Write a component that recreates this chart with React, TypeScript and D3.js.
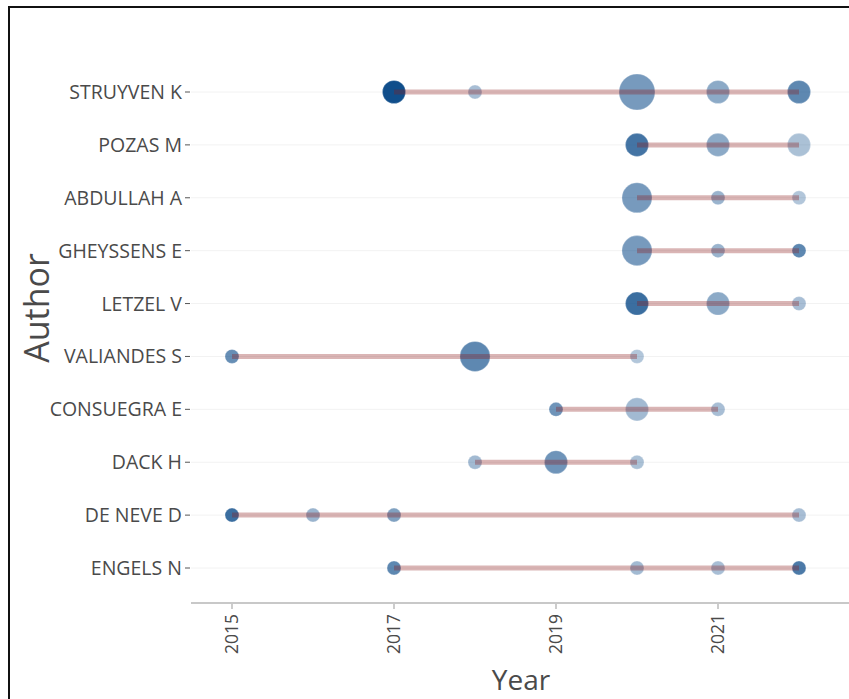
import React from "react";
import * as d3 from "d3";

const authors = [
  "STRUYVEN K",
  "POZAS M",
  "ABDULLAH A",
  "GHEYSSENS E",
  "LETZEL V",
  "VALIANDES S",
  "CONSUEGRA E",
  "DACK H",
  "DE NEVE D",
  "ENGELS N",
];

// one entry per author: years with publications
const years: number[][] = [
  [2017, 2018, 2020, 2021, 2022],
  [2020, 2021, 2022],
  [2020, 2021, 2022],
  [2020, 2021, 2022],
  [2020, 2021, 2022],
  [2015, 2018, 2020],
  [2019, 2020, 2021],
  [2018, 2019, 2020],
  [2015, 2016, 2017, 2022],
  [2017, 2020, 2021, 2022],
];

// number of articles per author-year
const freq: number[][] = [
  [2, 1, 4, 2, 2],
  [2, 2, 2],
  [3, 1, 1],
  [3, 1, 1],
  [2, 2, 1],
  [1, 3, 1],
  [1, 2, 1],
  [1, 2, 1],
  [1, 1, 1, 1],
  [1, 1, 1, 1],
];

// total citations per year (drives opacity)
const tcPerYear: number[][] = [
  [10, 1.2, 4, 2.8, 5.5],
  [7, 2.8, 1],
  [4, 2, 0.6],
  [4, 2, 5.5],
  [7.5, 2.8, 1.2],
  [5, 5.5, 0.6],
  [4.5, 1.5, 1.2],
  [1.5, 4.5, 1],
  [7.5, 2, 3.5, 1.2],
  [5.5, 1.5, 1.2, 6.5],
];

const xTicks = [2015, 2017, 2019, 2021];

const W = 849;
const H = 699;
const FONT = "'Open Sans', Verdana, Arial, sans-serif";

export default function App() {
  const x = d3.scaleLinear().domain([2015, 2022]).range([232, 799]);
  const y = d3.scalePoint<string>().domain(authors).range([92, 568]);
  const r = d3.scaleSqrt().domain([1, 4]).range([7, 18]);
  const a = d3.scaleLinear().domain([0, 10]).range([0.28, 1]).clamp(true);
  const axisY = 603;
  const plotLeft = 191;
  const plotRight = 849;

  return (
    <svg
      width={W}
      height={H}
      style={{ position: "absolute", left: 0, top: 0, background: "#fff" }}
    >
      <rect x={0} y={0} width={W} height={H} fill="#fff" />
      <rect x={9} y={7} width={900} height={800} fill="none" stroke="#111" strokeWidth={2} />

      {/* horizontal grid */}
      {authors.map((au) => (
        <line
          key={"g" + au}
          x1={plotLeft}
          x2={plotRight}
          y1={y(au)}
          y2={y(au)}
          stroke="#f2f2f2"
          strokeWidth={1}
        />
      ))}

      {/* y labels and ticks */}
      {authors.map((au) => (
        <g key={"yl" + au}>
          <text
            x={182}
            y={y(au)!}
            dy="0.36em"
            textAnchor="end"
            fontFamily={FONT}
            fontSize={19.5}
            fill="#4a4a4a"
          >
            {au}
          </text>
          <line x1={185} x2={190} y1={y(au)} y2={y(au)} stroke="#555" strokeWidth={1} />
        </g>
      ))}

      {/* x axis */}
      <line x1={plotLeft} x2={plotRight} y1={axisY} y2={axisY} stroke="#c8c8c8" strokeWidth={2} />
      {xTicks.map((t) => (
        <g key={"xt" + t}>
          <line x1={x(t)} x2={x(t)} y1={axisY + 1} y2={axisY + 6} stroke="#999" strokeWidth={1} />
          <text
            transform={`translate(${x(t)},${axisY + 11}) rotate(-90)`}
            dy="0.36em"
            textAnchor="end"
            fontFamily={FONT}
            fontSize={17.5}
            fill="#4a4a4a"
          >
            {t}
          </text>
        </g>
      ))}

      {/* titles */}
      <text x={521} y={690} textAnchor="middle" fontFamily={FONT} fontSize={28} fill="#4a4a4a">
        Year
      </text>
      <text
        transform={`translate(49,308) rotate(-90)`}
        textAnchor="middle"
        fontFamily={FONT}
        fontSize={34}
        fill="#4a4a4a"
      >
        Author
      </text>

      {/* dots */}
      {authors.map((au, i) =>
        years[i].map((yr, j) => (
          <circle
            key={"c" + au + yr}
            cx={x(yr)}
            cy={y(au)}
            r={r(freq[i][j])}
            fill="#104E8B"
            fillOpacity={a(tcPerYear[i][j])}
            stroke="#fff"
            strokeOpacity={0.5}
            strokeWidth={0.5}
          />
        ))
      )}

      {/* lines */}
      {authors.map((au, i) => (
        <line
          key={"l" + au}
          x1={x(d3.min(years[i])!)}
          x2={x(d3.max(years[i])!)}
          y1={y(au)}
          y2={y(au)}
          stroke="#8B1A1A"
          strokeOpacity={0.32}
          strokeWidth={5}
        />
      ))}
    </svg>
  );
}
